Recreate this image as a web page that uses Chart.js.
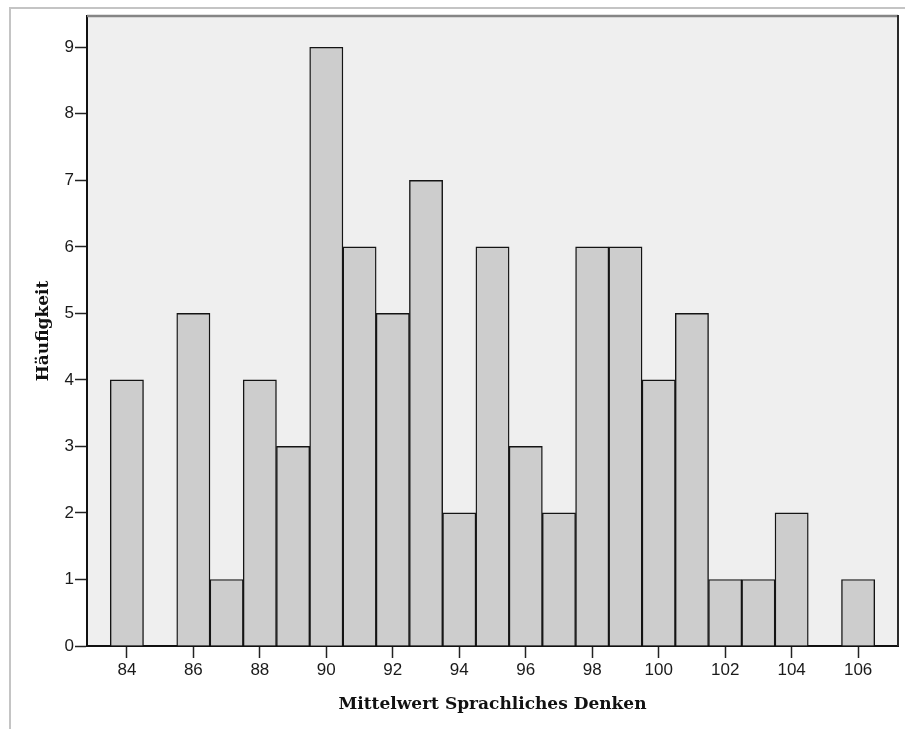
<!DOCTYPE html>
<html>
<head>
<meta charset="utf-8">
<title>Mittelwert Sprachliches Denken</title>
<script src="https://cdn.jsdelivr.net/npm/chart.js@4/dist/chart.umd.min.js"></script>
<style>
  html, body { margin: 0; padding: 0; background: #fff; }
  #wrap { width: 905px; height: 729px; position: relative; }
</style>
</head>
<body>
<div id="wrap"><canvas id="histChart"></canvas></div>
<script>
// Histogramm: Mittelwert Sprachliches Denken (Klassenbreite 1)
const scores = [84, 85, 86, 87, 88, 89, 90, 91, 92, 93, 94, 95,
                96, 97, 98, 99, 100, 101, 102, 103, 104, 105, 106];
const counts = [4, 0, 5, 1, 4, 3, 9, 6, 5, 7, 2, 6,
                3, 2, 6, 6, 4, 5, 1, 1, 2, 0, 1];
const xTicks = [84, 86, 88, 90, 92, 94, 96, 98, 100, 102, 104, 106];
const yTicks = [0, 1, 2, 3, 4, 5, 6, 7, 8, 9];

const tickFont = { family: '"Liberation Sans", Arial, sans-serif', size: 17 };
const titleFont = { family: '"DejaVu Serif", serif', size: 17, weight: 'bold' };

// plot background + frame lines (SPSS look)
const framePlugin = {
  id: 'frame',
  beforeDraw(chart) {
    const { ctx, chartArea: a } = chart;
    ctx.save();
    ctx.fillStyle = '#efefef';
    ctx.fillRect(a.left, a.top, a.right - a.left, a.bottom - a.top);
    ctx.restore();
  },
  afterDraw(chart) {
    const { ctx, chartArea: a, width, height } = chart;
    ctx.save();
    // outer border
    ctx.strokeStyle = '#c4c4c4';
    ctx.lineWidth = 2;
    ctx.beginPath();
    ctx.moveTo(10, height);
    ctx.lineTo(10, 8);
    ctx.lineTo(width, 8);
    ctx.stroke();
    // top edge of plot
    ctx.strokeStyle = '#858585';
    ctx.lineWidth = 2.5;
    ctx.beginPath();
    ctx.moveTo(a.left, a.top);
    ctx.lineTo(a.right, a.top);
    ctx.stroke();
    // right edge of plot
    ctx.strokeStyle = '#2a2a2a';
    ctx.lineWidth = 2;
    ctx.beginPath();
    ctx.moveTo(a.right, a.top - 1);
    ctx.lineTo(a.right, a.bottom);
    ctx.stroke();
    ctx.restore();
  }
};

function createHistogram() {
  const ctx = document.getElementById('histChart').getContext('2d');

  new Chart(ctx, {
    type: 'bar',
    data: {
      datasets: [{
        label: 'Häufigkeit',
        data: scores.map((s, i) => ({ x: s, y: counts[i] })),
        backgroundColor: '#cdcdcd',
        borderColor: '#141414',
        borderWidth: 1.4,
        borderSkipped: 'start',
        categoryPercentage: 1.0,
        barPercentage: 1.0
      }]
    },
    options: {
      responsive: true,
      maintainAspectRatio: false,
      animation: false,
      layout: { padding: { top: 16, right: 7, left: 0, bottom: 0 } },
      plugins: {
        legend: { display: false },
        tooltip: { enabled: false }
      },
      scales: {
        x: {
          type: 'linear',
          offset: false,
          min: 82.8,
          max: 107.2,
          afterBuildTicks: (scale) => { scale.ticks = xTicks.map(v => ({ value: v })); },
          afterFit: (scale) => { scale.height = 83; },
          grid: {
            offset: false,
            drawOnChartArea: false,
            tickLength: 12,
            tickColor: '#222',
            tickWidth: 1.5
          },
          border: { color: '#111', width: 2 },
          ticks: { font: tickFont, color: '#1a1a1a', padding: 2, maxRotation: 0 },
          title: {
            display: true,
            text: 'Mittelwert Sprachliches Denken',
            font: titleFont,
            color: '#111',
            padding: { top: 0, bottom: 14 }
          }
        },
        y: {
          min: 0,
          max: 9.47,
          afterBuildTicks: (scale) => { scale.ticks = yTicks.map(v => ({ value: v })); },
          afterFit: (scale) => { scale.width = 87; },
          grid: {
            drawOnChartArea: false,
            tickLength: 12,
            tickColor: '#222',
            tickWidth: 1.5
          },
          border: { color: '#111', width: 2 },
          ticks: { font: tickFont, color: '#1a1a1a', padding: 1 },
          title: {
            display: true,
            text: 'Häufigkeit',
            font: titleFont,
            color: '#111',
            padding: { top: 33, bottom: 0 }
          }
        }
      }
    },
    plugins: [framePlugin]
  });
}

document.addEventListener('DOMContentLoaded', () => {
  createHistogram();
});
</script>
</body>
</html>
